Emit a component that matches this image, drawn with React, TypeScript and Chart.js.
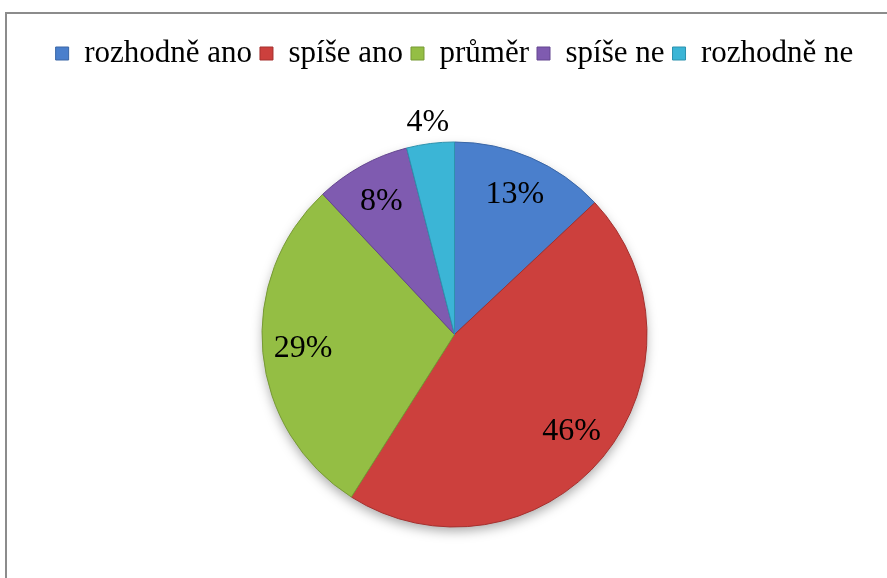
import React, { useEffect, useRef } from "react";
import { Chart, registerables } from "chart.js";

Chart.register(...registerables);

const categories = ["rozhodně ano", "spíše ano", "průměr", "spíše ne", "rozhodně ne"];
const values = [13, 46, 29, 8, 4];
const colors = ["#4A7FCC", "#CC403D", "#94BE44", "#7F5BB0", "#3BB5D6"];
const edgeColors = ["#3A66A6", "#A5302E", "#779A35", "#654690", "#2D92AE"];

const FONT = "'Liberation Serif', 'Times New Roman', serif";
const PIE_TOP = 141.5;
const PAD_TOP = 30;

export default function App() {
  const ref = useRef<HTMLCanvasElement>(null);

  useEffect(() => {
    const canvas = ref.current;
    if (!canvas) return;

    const legendSpacer = {
      id: "legendSpacer",
      beforeInit(chart: any) {
        const leg = chart.legend;
        if (!leg) return;
        const orig = leg.fit;
        leg.fit = function () {
          orig.call(leg);
          leg.height = PIE_TOP - PAD_TOP;
        };
      },
    };

    const pieShadow = {
      id: "pieShadow",
      beforeDatasetsDraw(chart: any) {
        const arc = chart.getDatasetMeta(0).data[0];
        if (!arc) return;
        const { x, y, outerRadius } = arc.getProps(["x", "y", "outerRadius"], true);
        const ctx = chart.ctx;
        ctx.save();
        ctx.shadowColor = "rgba(0,0,0,0.35)";
        ctx.shadowBlur = 12;
        ctx.shadowOffsetY = 5;
        ctx.beginPath();
        ctx.arc(x, y, outerRadius - 1, 0, Math.PI * 2);
        ctx.fillStyle = "#999";
        ctx.fill();
        ctx.restore();
      },
    };

    const sliceLabels = {
      id: "sliceLabels",
      afterDatasetsDraw(chart: any) {
        const ctx = chart.ctx;
        const meta = chart.getDatasetMeta(0);
        const data = chart.data.datasets[0].data as number[];
        const total = data.reduce((a, b) => a + b, 0);
        ctx.save();
        ctx.font = `32px ${FONT}`;
        ctx.fillStyle = "#000";
        ctx.textAlign = "center";
        ctx.textBaseline = "middle";
        meta.data.forEach((el: any, i: number) => {
          const { x, y, startAngle, endAngle, outerRadius } = el.getProps(
            ["x", "y", "startAngle", "endAngle", "outerRadius"],
            true
          );
          const frac = data[i] / total;
          const mid = (startAngle + endAngle) / 2;
          const f = frac < 0.05 ? 1.11 : 0.79;
          const tx = x + Math.cos(mid) * outerRadius * f;
          const ty = y + Math.sin(mid) * outerRadius * f;
          ctx.fillText(Math.round(frac * 100) + "%", tx, ty);
        });
        ctx.restore();
      },
    };

    const chart = new Chart(canvas, {
      type: "pie",
      data: {
        labels: categories,
        datasets: [
          {
            data: values,
            backgroundColor: colors,
            borderColor: edgeColors,
            borderWidth: 1,
          },
        ],
      },
      options: {
        animation: false,
        responsive: true,
        maintainAspectRatio: false,
        layout: { padding: { top: PAD_TOP, bottom: 50.5, left: 22, right: 0 } },
        plugins: {
          tooltip: { enabled: false },
          legend: {
            position: "top",
            labels: {
              font: { family: FONT, size: 31 },
              color: "#000",
              boxWidth: 13,
              boxHeight: 13,
              padding: 8,
              generateLabels() {
                return categories.map((c, i) => ({
                  text: c,
                  fillStyle: colors[i],
                  strokeStyle: edgeColors[i],
                  lineWidth: 1,
                  hidden: false,
                  index: i,
                  fontColor: "#000",
                }));
              },
            },
          },
        },
      },
      plugins: [legendSpacer, pieShadow, sliceLabels],
    });

    return () => chart.destroy();
  }, []);

  return (
    <div
      style={{
        position: "fixed",
        left: 0,
        top: 0,
        width: 887,
        height: 578,
        overflow: "hidden",
        background: "#fff",
      }}
    >
      <div
        style={{
          position: "absolute",
          left: 5,
          top: 12,
          width: 1000,
          height: 1000,
          border: "2px solid #8c8c8c",
          boxSizing: "border-box",
        }}
      />
      <div style={{ position: "absolute", left: 0, top: 0, width: 887, height: 578 }}>
        <canvas ref={ref} />
      </div>
    </div>
  );
}
